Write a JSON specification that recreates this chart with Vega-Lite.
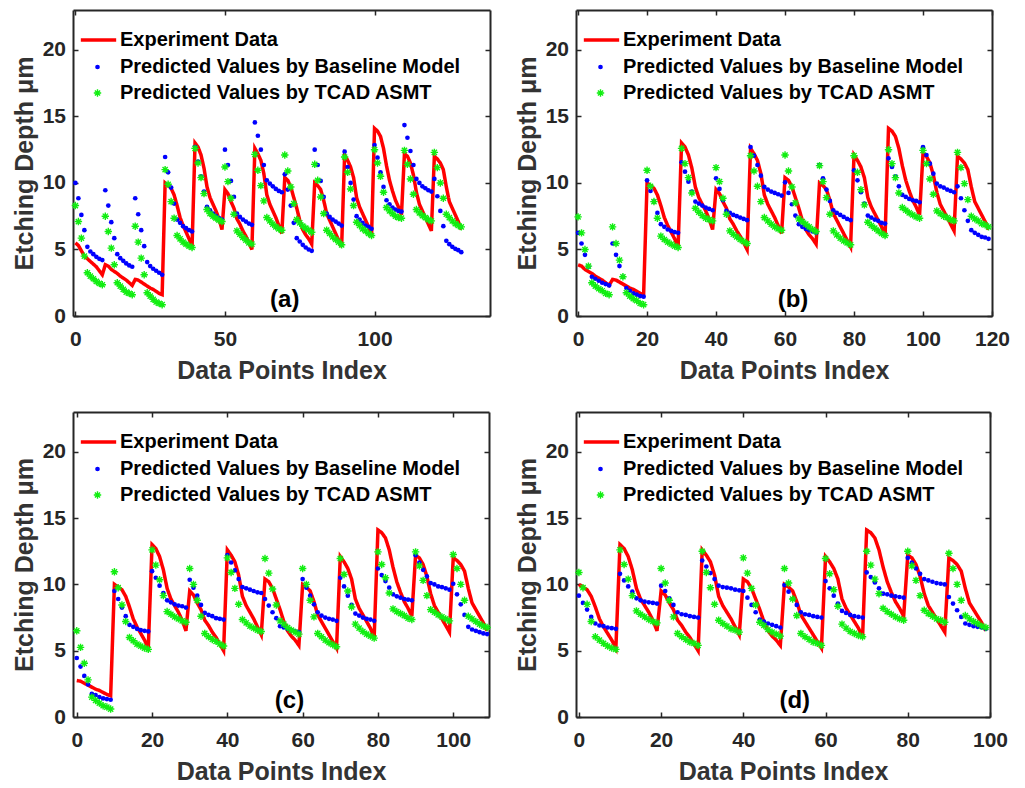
{
"$schema": "https://vega.github.io/schema/vega-lite/v6.json",
"background": "white",
"padding": {"left": 12, "top": 9, "right": 5, "bottom": 5},
"config": {
  "view": {"stroke": null},
  "axis": {"domainColor": "#262626", "domainWidth": 2, "tickColor": "#262626", "tickWidth": 1.5, "tickSize": -5, "labelFont": "Liberation Sans", "labelFontWeight": "bold", "labelFontSize": 21, "labelColor": "#262626", "titleFont": "Liberation Sans", "titleFontWeight": "bold", "titleFontSize": 25, "titleColor": "#333333", "grid": false, "labelFlush": false},
  "axisBottom": {"labelPadding": 17.5, "titlePadding": 9},
  "axisLeft": {"labelPadding": 12.5, "titlePadding": 5},
  "legend": {"orient": "none", "legendX": 6, "title": null, "padding": 0, "labelFont": "Liberation Sans", "labelFontWeight": "bold", "labelFontSize": 20, "labelColor": "#000000", "labelLimit": 600, "clipHeight": 20, "labelOffset": 3, "symbolOpacity": 1},
  "text": {"font": "Liberation Sans", "fontWeight": "bold", "fontSize": 24, "color": "#000000", "baseline": "middle", "align": "center"}
},
"bounds": "flush",
"columns": 2,
"spacing": {"row": 96, "column": 86},
"resolve": {"scale": {"fill": "independent", "stroke": "independent", "strokeDash": "independent"}, "legend": {"fill": "independent", "stroke": "independent", "strokeDash": "independent"}},
"datasets": {
"a": [
{"i":0,"E":5.5,"B":10,"T":8.3},{"i":1,"E":5.3,"B":8.85,"T":7.1},{"i":2,"E":4.9,"B":7.6,"T":5.85},{"i":3,"E":4.5,"B":6.45,"T":4.5},{"i":4,"E":4.3,"B":5.2,"T":3.25},{"i":5,"E":4.1,"B":4.85,"T":3},{"i":6,"E":3.9,"B":4.65,"T":2.8},{"i":7,"E":3.7,"B":4.45,"T":2.6},{"i":8,"E":3.4,"B":4.3,"T":2.45},{"i":9,"E":3.1,"B":4.2,"T":2.35},
{"i":10,"E":3.85,"B":9.45,"T":7.5},{"i":11,"E":3.75,"B":8.3,"T":6.35},{"i":12,"E":3.5,"B":7.05,"T":5.1},{"i":13,"E":3.35,"B":5.85,"T":3.85},{"i":14,"E":3.2,"B":4.65,"T":2.5},{"i":15,"E":3,"B":4.35,"T":2.25},{"i":16,"E":2.85,"B":4.15,"T":2},{"i":17,"E":2.7,"B":3.95,"T":1.8},{"i":18,"E":2.5,"B":3.8,"T":1.7},{"i":19,"E":2.3,"B":3.7,"T":1.6},
{"i":20,"E":2.75,"B":8.85,"T":6.75},{"i":21,"E":2.7,"B":7.65,"T":5.55},{"i":22,"E":2.55,"B":6.45,"T":4.35},{"i":23,"E":2.4,"B":5.25,"T":3.1},{"i":24,"E":2.25,"B":4.05,"T":1.75},{"i":25,"E":2.1,"B":3.75,"T":1.5},{"i":26,"E":2,"B":3.55,"T":1.25},{"i":27,"E":1.85,"B":3.4,"T":1.05},{"i":28,"E":1.7,"B":3.25,"T":0.95},{"i":29,"E":1.6,"B":3.1,"T":0.85},
{"i":30,"E":10,"B":11.95,"T":11},{"i":31,"E":9.8,"B":10.8,"T":9.9},{"i":32,"E":9.6,"B":9.65,"T":8.6},{"i":33,"E":9.1,"B":8.45,"T":7.35},{"i":34,"E":8.3,"B":7.25,"T":6.05},{"i":35,"E":7.4,"B":7,"T":5.8},{"i":36,"E":6.8,"B":6.75,"T":5.55},{"i":37,"E":6.3,"B":6.6,"T":5.4},{"i":38,"E":5.8,"B":6.45,"T":5.25},{"i":39,"E":5.2,"B":6.35,"T":5.15},
{"i":40,"E":13,"B":12.7,"T":12.6},{"i":41,"E":12.7,"B":11.6,"T":11.5},{"i":42,"E":12.1,"B":10.5,"T":10.4},{"i":43,"E":11.1,"B":9.35,"T":9.2},{"i":44,"E":9.7,"B":8.2,"T":8},{"i":45,"E":8.9,"B":7.95,"T":7.7},{"i":46,"E":8.4,"B":7.7,"T":7.5},{"i":47,"E":7.9,"B":7.5,"T":7.35},{"i":48,"E":7.3,"B":7.35,"T":7.2},{"i":49,"E":6.5,"B":7.25,"T":7.1},
{"i":50,"E":9.5,"B":12.5,"T":11.2},{"i":51,"E":9.2,"B":11.35,"T":10.1},{"i":52,"E":8.6,"B":10.15,"T":8.85},{"i":53,"E":8.1,"B":8.95,"T":7.65},{"i":54,"E":7.3,"B":7.7,"T":6.4},{"i":55,"E":6.9,"B":7.45,"T":6.15},{"i":56,"E":6.4,"B":7.25,"T":5.9},{"i":57,"E":6,"B":7.1,"T":5.7},{"i":58,"E":5.5,"B":6.95,"T":5.5},{"i":59,"E":5,"B":6.85,"T":5.4},
{"i":60,"E":12.6,"B":14.55,"T":12.15},{"i":61,"E":12.2,"B":13.55,"T":10.95},{"i":62,"E":11.7,"B":12.5,"T":9.8},{"i":63,"E":10.7,"B":11.35,"T":8.65},{"i":64,"E":9.1,"B":10.2,"T":7.4},{"i":65,"E":8.4,"B":9.95,"T":7.15},{"i":66,"E":7.9,"B":9.75,"T":6.9},{"i":67,"E":7.4,"B":9.55,"T":6.7},{"i":68,"E":6.8,"B":9.4,"T":6.55},{"i":69,"E":6.2,"B":9.3,"T":6.45},
{"i":70,"E":10.4,"B":10.65,"T":12.1},{"i":71,"E":10.2,"B":9.5,"T":10.9},{"i":72,"E":9.7,"B":8.3,"T":9.7},{"i":73,"E":8.9,"B":7,"T":8.45},{"i":74,"E":8.1,"B":5.85,"T":7.25},{"i":75,"E":7.2,"B":5.6,"T":7},{"i":76,"E":6.5,"B":5.35,"T":6.75},{"i":77,"E":6.1,"B":5.15,"T":6.6},{"i":78,"E":5.8,"B":5,"T":6.45},{"i":79,"E":5.4,"B":4.9,"T":6.3},
{"i":80,"E":10,"B":12.5,"T":11.4},{"i":81,"E":9.8,"B":11.35,"T":10.2},{"i":82,"E":9.5,"B":10.15,"T":8.95},{"i":83,"E":8.7,"B":8.95,"T":7.7},{"i":84,"E":7.7,"B":7.7,"T":6.45},{"i":85,"E":7.2,"B":7.45,"T":6.2},{"i":86,"E":6.7,"B":7.25,"T":5.95},{"i":87,"E":6.2,"B":7.1,"T":5.75},{"i":88,"E":5.7,"B":6.95,"T":5.55},{"i":89,"E":5.2,"B":6.8,"T":5.35},
{"i":90,"E":12.1,"B":12.35,"T":11.95},{"i":91,"E":11.7,"B":11.2,"T":10.8},{"i":92,"E":11.2,"B":10,"T":9.55},{"i":93,"E":10.4,"B":8.75,"T":8.3},{"i":94,"E":8.9,"B":7.5,"T":7.05},{"i":95,"E":8.2,"B":7.25,"T":6.8},{"i":96,"E":7.7,"B":7,"T":6.55},{"i":97,"E":7.2,"B":6.8,"T":6.4},{"i":98,"E":6.7,"B":6.7,"T":6.2},{"i":99,"E":6,"B":6.55,"T":6.05},
{"i":100,"E":14.1,"B":12.85,"T":12.5},{"i":101,"E":13.9,"B":11.9,"T":11.5},{"i":102,"E":13.5,"B":10.8,"T":10.5},{"i":103,"E":12.6,"B":9.7,"T":9.3},{"i":104,"E":11.3,"B":8.7,"T":8.15},{"i":105,"E":10.2,"B":8.4,"T":7.9},{"i":106,"E":9.4,"B":8.15,"T":7.7},{"i":107,"E":8.7,"B":8,"T":7.5},{"i":108,"E":8.2,"B":7.9,"T":7.4},{"i":109,"E":7.6,"B":7.85,"T":7.35},
{"i":110,"E":12.2,"B":14.35,"T":12.45},{"i":111,"E":12,"B":13.4,"T":11.4},{"i":112,"E":11.5,"B":12.4,"T":10.3},{"i":113,"E":10.6,"B":11.35,"T":9.15},{"i":114,"E":9.3,"B":10.3,"T":8},{"i":115,"E":8.4,"B":10,"T":7.75},{"i":116,"E":7.9,"B":9.75,"T":7.55},{"i":117,"E":7.4,"B":9.6,"T":7.4},{"i":118,"E":6.9,"B":9.45,"T":7.25},{"i":119,"E":6.4,"B":9.35,"T":7.15},
{"i":120,"E":12,"B":10.3,"T":12.3},{"i":121,"E":11.8,"B":9,"T":11.15},{"i":122,"E":11.5,"B":7.9,"T":10},{"i":123,"E":11,"B":6.75,"T":8.85},{"i":124,"E":9.7,"B":5.65,"T":7.65},{"i":125,"E":8.6,"B":5.4,"T":7.4},{"i":126,"E":8.1,"B":5.2,"T":7.15},{"i":127,"E":7.6,"B":5.05,"T":6.95},{"i":128,"E":7.1,"B":4.95,"T":6.8},{"i":129,"E":6.5,"B":4.8,"T":6.7}
],
"b": [
{"i":0,"E":3.85,"B":6.25,"T":7.45},{"i":1,"E":3.75,"B":5.45,"T":6.25},{"i":2,"E":3.5,"B":4.6,"T":5},{"i":3,"E":3.35,"B":3.7,"T":3.75},{"i":4,"E":3.2,"B":2.95,"T":2.5},{"i":5,"E":3,"B":2.8,"T":2.25},{"i":6,"E":2.85,"B":2.65,"T":2.05},{"i":7,"E":2.7,"B":2.5,"T":1.9},{"i":8,"E":2.5,"B":2.4,"T":1.7},{"i":9,"E":2.3,"B":2.3,"T":1.6},
{"i":10,"E":2.75,"B":5.45,"T":6.7},{"i":11,"E":2.7,"B":4.6,"T":5.45},{"i":12,"E":2.55,"B":3.75,"T":4.2},{"i":13,"E":2.4,"B":2.95,"T":2.95},{"i":14,"E":2.25,"B":2.1,"T":1.75},{"i":15,"E":2.1,"B":1.9,"T":1.5},{"i":16,"E":2,"B":1.7,"T":1.3},{"i":17,"E":1.85,"B":1.6,"T":1.15},{"i":18,"E":1.7,"B":1.5,"T":0.95},{"i":19,"E":1.6,"B":1.45,"T":0.85},
{"i":20,"E":10,"B":10.2,"T":10.95},{"i":21,"E":9.8,"B":9.4,"T":9.75},{"i":22,"E":9.6,"B":8.6,"T":8.6},{"i":23,"E":9.1,"B":7.75,"T":7.35},{"i":24,"E":8.3,"B":6.9,"T":6},{"i":25,"E":7.4,"B":6.7,"T":5.75},{"i":26,"E":6.8,"B":6.5,"T":5.55},{"i":27,"E":6.3,"B":6.4,"T":5.4},{"i":28,"E":5.8,"B":6.3,"T":5.25},{"i":29,"E":5.2,"B":6.25,"T":5.15},
{"i":30,"E":13,"B":11.55,"T":12.6},{"i":31,"E":12.7,"B":10.85,"T":11.45},{"i":32,"E":12.1,"B":10.1,"T":10.4},{"i":33,"E":11.1,"B":9.35,"T":9.25},{"i":34,"E":9.7,"B":8.6,"T":8.1},{"i":35,"E":8.9,"B":8.45,"T":7.8},{"i":36,"E":8.4,"B":8.3,"T":7.55},{"i":37,"E":7.9,"B":8.15,"T":7.35},{"i":38,"E":7.3,"B":8.05,"T":7.25},{"i":39,"E":6.5,"B":7.95,"T":7.15},
{"i":40,"E":9.5,"B":10.35,"T":11.15},{"i":41,"E":9.2,"B":9.55,"T":10.1},{"i":42,"E":8.6,"B":8.7,"T":8.85},{"i":43,"E":8.1,"B":7.9,"T":7.65},{"i":44,"E":7.3,"B":7.75,"T":6.4},{"i":45,"E":6.9,"B":7.6,"T":6.15},{"i":46,"E":6.4,"B":7.5,"T":5.95},{"i":47,"E":6,"B":7.4,"T":5.75},{"i":48,"E":5.5,"B":7.3,"T":5.6},{"i":49,"E":5,"B":7.2,"T":5.45},
{"i":50,"E":12.6,"B":12.7,"T":12.05},{"i":51,"E":12.2,"B":12.05,"T":10.9},{"i":52,"E":11.7,"B":11.35,"T":9.75},{"i":53,"E":10.7,"B":10.55,"T":8.6},{"i":54,"E":9.1,"B":9.7,"T":7.4},{"i":55,"E":8.4,"B":9.5,"T":7.15},{"i":56,"E":7.9,"B":9.35,"T":6.9},{"i":57,"E":7.4,"B":9.25,"T":6.7},{"i":58,"E":6.8,"B":9.15,"T":6.55},{"i":59,"E":6.2,"B":9.05,"T":6.45},
{"i":60,"E":10.4,"B":10.05,"T":12.1},{"i":61,"E":10.2,"B":9.25,"T":10.9},{"i":62,"E":9.7,"B":8.4,"T":9.7},{"i":63,"E":8.9,"B":7.55,"T":8.5},{"i":64,"E":8.1,"B":6.9,"T":7.3},{"i":65,"E":7.2,"B":6.7,"T":7.1},{"i":66,"E":6.5,"B":6.55,"T":6.9},{"i":67,"E":6.1,"B":6.45,"T":6.7},{"i":68,"E":5.8,"B":6.35,"T":6.5},{"i":69,"E":5.4,"B":6.25,"T":6.35},
{"i":70,"E":10,"B":11.35,"T":11.3},{"i":71,"E":9.8,"B":10.35,"T":10.1},{"i":72,"E":9.5,"B":9.5,"T":8.9},{"i":73,"E":8.7,"B":8.65,"T":7.65},{"i":74,"E":7.7,"B":7.95,"T":6.4},{"i":75,"E":7.2,"B":7.75,"T":6.1},{"i":76,"E":6.7,"B":7.6,"T":5.85},{"i":77,"E":6.2,"B":7.45,"T":5.65},{"i":78,"E":5.7,"B":7.3,"T":5.5},{"i":79,"E":5.2,"B":7.2,"T":5.35},
{"i":80,"E":12.1,"B":10.95,"T":12.05},{"i":81,"E":11.7,"B":10.2,"T":10.8},{"i":82,"E":11.2,"B":9.3,"T":9.5},{"i":83,"E":10.4,"B":8.45,"T":8.35},{"i":84,"E":8.9,"B":7.55,"T":7.05},{"i":85,"E":8.2,"B":7.4,"T":6.8},{"i":86,"E":7.7,"B":7.25,"T":6.6},{"i":87,"E":7.2,"B":7.15,"T":6.4},{"i":88,"E":6.7,"B":7,"T":6.2},{"i":89,"E":6,"B":6.95,"T":6.05},
{"i":90,"E":14.1,"B":11.85,"T":12.5},{"i":91,"E":13.9,"B":11.2,"T":11.45},{"i":92,"E":13.5,"B":10.5,"T":10.4},{"i":93,"E":12.6,"B":9.75,"T":9.25},{"i":94,"E":11.3,"B":9.1,"T":8.15},{"i":95,"E":10.2,"B":8.95,"T":7.95},{"i":96,"E":9.4,"B":8.8,"T":7.75},{"i":97,"E":8.7,"B":8.7,"T":7.6},{"i":98,"E":8.2,"B":8.65,"T":7.45},{"i":99,"E":7.6,"B":8.55,"T":7.35},
{"i":100,"E":12.2,"B":12.7,"T":12.45},{"i":101,"E":12,"B":12.1,"T":11.45},{"i":102,"E":11.5,"B":11.45,"T":10.3},{"i":103,"E":10.6,"B":10.7,"T":9.15},{"i":104,"E":9.3,"B":9.95,"T":7.9},{"i":105,"E":8.4,"B":9.75,"T":7.7},{"i":106,"E":7.9,"B":9.65,"T":7.5},{"i":107,"E":7.4,"B":9.5,"T":7.4},{"i":108,"E":6.9,"B":9.4,"T":7.25},{"i":109,"E":6.4,"B":9.3,"T":7.15},
{"i":110,"E":12,"B":9.75,"T":12.3},{"i":111,"E":11.8,"B":8.85,"T":11.15},{"i":112,"E":11.5,"B":7.95,"T":9.95},{"i":113,"E":11,"B":7.15,"T":8.75},{"i":114,"E":9.7,"B":6.45,"T":7.5},{"i":115,"E":8.6,"B":6.25,"T":7.3},{"i":116,"E":8.1,"B":6.1,"T":7.15},{"i":117,"E":7.6,"B":5.95,"T":6.95},{"i":118,"E":7.1,"B":5.9,"T":6.85},{"i":119,"E":6.5,"B":5.8,"T":6.7}
],
"c": [
{"i":0,"E":2.75,"B":4.45,"T":6.5},{"i":1,"E":2.7,"B":3.8,"T":5.25},{"i":2,"E":2.55,"B":3.1,"T":4.05},{"i":3,"E":2.4,"B":2.45,"T":2.8},{"i":4,"E":2.25,"B":1.75,"T":1.5},{"i":5,"E":2.1,"B":1.65,"T":1.25},{"i":6,"E":2,"B":1.5,"T":1.05},{"i":7,"E":1.85,"B":1.4,"T":0.85},{"i":8,"E":1.7,"B":1.35,"T":0.75},{"i":9,"E":1.6,"B":1.3,"T":0.6},
{"i":10,"E":10,"B":9.5,"T":10.95},{"i":11,"E":9.8,"B":8.9,"T":9.75},{"i":12,"E":9.6,"B":8.25,"T":8.45},{"i":13,"E":9.1,"B":7.6,"T":7.2},{"i":14,"E":8.3,"B":6.95,"T":6},{"i":15,"E":7.4,"B":6.8,"T":5.75},{"i":16,"E":6.8,"B":6.65,"T":5.5},{"i":17,"E":6.3,"B":6.55,"T":5.35},{"i":18,"E":5.8,"B":6.5,"T":5.2},{"i":19,"E":5.2,"B":6.45,"T":5.1},
{"i":20,"E":13,"B":11,"T":12.6},{"i":21,"E":12.7,"B":10.5,"T":11.45},{"i":22,"E":12.1,"B":9.9,"T":10.35},{"i":23,"E":11.1,"B":9.35,"T":9.15},{"i":24,"E":9.7,"B":8.8,"T":7.95},{"i":25,"E":8.9,"B":8.65,"T":7.75},{"i":26,"E":8.4,"B":8.5,"T":7.55},{"i":27,"E":7.9,"B":8.4,"T":7.4},{"i":28,"E":7.3,"B":8.35,"T":7.25},{"i":29,"E":6.5,"B":8.25,"T":7.15},
{"i":30,"E":9.5,"B":10.35,"T":11.2},{"i":31,"E":9.2,"B":9.75,"T":10},{"i":32,"E":8.6,"B":9.15,"T":8.8},{"i":33,"E":8.1,"B":8.45,"T":7.6},{"i":34,"E":7.3,"B":7.85,"T":6.3},{"i":35,"E":6.9,"B":7.7,"T":6.05},{"i":36,"E":6.4,"B":7.6,"T":5.85},{"i":37,"E":6,"B":7.45,"T":5.7},{"i":38,"E":5.5,"B":7.4,"T":5.5},{"i":39,"E":5,"B":7.35,"T":5.35},
{"i":40,"E":12.6,"B":12.2,"T":12},{"i":41,"E":12.2,"B":11.65,"T":10.9},{"i":42,"E":11.7,"B":11.05,"T":9.7},{"i":43,"E":10.7,"B":10.4,"T":8.5},{"i":44,"E":9.1,"B":9.8,"T":7.35},{"i":45,"E":8.4,"B":9.7,"T":7.1},{"i":46,"E":7.9,"B":9.6,"T":6.85},{"i":47,"E":7.4,"B":9.5,"T":6.7},{"i":48,"E":6.8,"B":9.4,"T":6.55},{"i":49,"E":6.2,"B":9.35,"T":6.45},
{"i":50,"E":10.4,"B":8.9,"T":11.95},{"i":51,"E":10.2,"B":8.4,"T":10.85},{"i":52,"E":9.7,"B":7.9,"T":9.65},{"i":53,"E":8.9,"B":7.45,"T":8.45},{"i":54,"E":8.1,"B":6.85,"T":7.25},{"i":55,"E":7.2,"B":6.75,"T":7},{"i":56,"E":6.5,"B":6.65,"T":6.75},{"i":57,"E":6.1,"B":6.55,"T":6.55},{"i":58,"E":5.8,"B":6.45,"T":6.4},{"i":59,"E":5.4,"B":6.4,"T":6.25},
{"i":60,"E":10,"B":10.4,"T":11.2},{"i":61,"E":9.8,"B":9.75,"T":10},{"i":62,"E":9.5,"B":9.15,"T":8.8},{"i":63,"E":8.7,"B":8.5,"T":7.55},{"i":64,"E":7.7,"B":7.9,"T":6.3},{"i":65,"E":7.2,"B":7.65,"T":6.05},{"i":66,"E":6.7,"B":7.5,"T":5.8},{"i":67,"E":6.2,"B":7.4,"T":5.6},{"i":68,"E":5.7,"B":7.35,"T":5.45},{"i":69,"E":5.2,"B":7.25,"T":5.3},
{"i":70,"E":12.1,"B":10.5,"T":11.95},{"i":71,"E":11.7,"B":9.85,"T":10.75},{"i":72,"E":11.2,"B":9.15,"T":9.5},{"i":73,"E":10.4,"B":8.45,"T":8.3},{"i":74,"E":8.9,"B":7.8,"T":7},{"i":75,"E":8.2,"B":7.65,"T":6.7},{"i":76,"E":7.7,"B":7.5,"T":6.45},{"i":77,"E":7.2,"B":7.4,"T":6.25},{"i":78,"E":6.7,"B":7.35,"T":6.1},{"i":79,"E":6,"B":7.25,"T":5.95},
{"i":80,"E":14.1,"B":11.2,"T":12.45},{"i":81,"E":13.9,"B":10.7,"T":11.5},{"i":82,"E":13.5,"B":10.25,"T":10.5},{"i":83,"E":12.6,"B":9.75,"T":9.35},{"i":84,"E":11.3,"B":9.25,"T":8.15},{"i":85,"E":10.2,"B":9.1,"T":7.95},{"i":86,"E":9.4,"B":9,"T":7.8},{"i":87,"E":8.7,"B":8.9,"T":7.65},{"i":88,"E":8.2,"B":8.85,"T":7.45},{"i":89,"E":7.6,"B":8.8,"T":7.35},
{"i":90,"E":12.2,"B":12.2,"T":12.45},{"i":91,"E":12,"B":11.65,"T":11.4},{"i":92,"E":11.5,"B":11.1,"T":10.3},{"i":93,"E":10.6,"B":10.6,"T":9.15},{"i":94,"E":9.3,"B":10.1,"T":8.1},{"i":95,"E":8.4,"B":10,"T":7.9},{"i":96,"E":7.9,"B":9.85,"T":7.7},{"i":97,"E":7.4,"B":9.8,"T":7.55},{"i":98,"E":6.9,"B":9.7,"T":7.4},{"i":99,"E":6.4,"B":9.6,"T":7.25},
{"i":100,"E":12,"B":10.05,"T":12.25},{"i":101,"E":11.8,"B":9.25,"T":11.2},{"i":102,"E":11.5,"B":8.5,"T":10},{"i":103,"E":11,"B":7.7,"T":8.8},{"i":104,"E":9.7,"B":6.8,"T":7.6},{"i":105,"E":8.6,"B":6.6,"T":7.4},{"i":106,"E":8.1,"B":6.5,"T":7.2},{"i":107,"E":7.6,"B":6.4,"T":7},{"i":108,"E":7.1,"B":6.3,"T":6.85},{"i":109,"E":6.5,"B":6.25,"T":6.75}
],
"d": [
{"i":0,"E":10,"B":9.15,"T":10.9},{"i":1,"E":9.8,"B":8.6,"T":9.75},{"i":2,"E":9.6,"B":8.1,"T":8.5},{"i":3,"E":9.1,"B":7.55,"T":7.2},{"i":4,"E":8.3,"B":7.05,"T":6.05},{"i":5,"E":7.4,"B":6.9,"T":5.8},{"i":6,"E":6.8,"B":6.85,"T":5.55},{"i":7,"E":6.3,"B":6.75,"T":5.35},{"i":8,"E":5.8,"B":6.7,"T":5.2},{"i":9,"E":5.2,"B":6.65,"T":5.1},
{"i":10,"E":13,"B":10.8,"T":12.6},{"i":11,"E":12.7,"B":10.3,"T":11.5},{"i":12,"E":12.1,"B":9.85,"T":10.4},{"i":13,"E":11.1,"B":9.45,"T":9.15},{"i":14,"E":9.7,"B":8.95,"T":8},{"i":15,"E":8.9,"B":8.8,"T":7.75},{"i":16,"E":8.4,"B":8.7,"T":7.55},{"i":17,"E":7.9,"B":8.65,"T":7.35},{"i":18,"E":7.3,"B":8.6,"T":7.2},{"i":19,"E":6.5,"B":8.55,"T":7.1},
{"i":20,"E":9.5,"B":9.9,"T":11.2},{"i":21,"E":9.2,"B":9.5,"T":10.1},{"i":22,"E":8.6,"B":8.95,"T":8.8},{"i":23,"E":8.1,"B":8.45,"T":7.55},{"i":24,"E":7.3,"B":7.9,"T":6.3},{"i":25,"E":6.9,"B":7.75,"T":6.05},{"i":26,"E":6.4,"B":7.7,"T":5.85},{"i":27,"E":6,"B":7.6,"T":5.65},{"i":28,"E":5.5,"B":7.55,"T":5.55},{"i":29,"E":5,"B":7.5,"T":5.4},
{"i":30,"E":12.6,"B":11.8,"T":12.5},{"i":31,"E":12.2,"B":11.35,"T":10.9},{"i":32,"E":11.7,"B":10.85,"T":9.75},{"i":33,"E":10.7,"B":10.4,"T":8.5},{"i":34,"E":9.1,"B":9.9,"T":7.3},{"i":35,"E":8.4,"B":9.8,"T":7.05},{"i":36,"E":7.9,"B":9.75,"T":6.85},{"i":37,"E":7.4,"B":9.7,"T":6.65},{"i":38,"E":6.8,"B":9.6,"T":6.55},{"i":39,"E":6.2,"B":9.55,"T":6.4},
{"i":40,"E":10.4,"B":9.5,"T":12},{"i":41,"E":10.2,"B":9,"T":10.85},{"i":42,"E":9.7,"B":8.45,"T":9.7},{"i":43,"E":8.9,"B":7.9,"T":8.45},{"i":44,"E":8.1,"B":7.35,"T":7.15},{"i":45,"E":7.2,"B":7.2,"T":6.9},{"i":46,"E":6.5,"B":7.05,"T":6.6},{"i":47,"E":6.1,"B":6.95,"T":6.4},{"i":48,"E":5.8,"B":6.85,"T":6.25},{"i":49,"E":5.4,"B":6.75,"T":6.1},
{"i":50,"E":10,"B":9.95,"T":11.2},{"i":51,"E":9.8,"B":9.45,"T":10.1},{"i":52,"E":9.5,"B":8.9,"T":8.9},{"i":53,"E":8.7,"B":8.45,"T":7.65},{"i":54,"E":7.7,"B":7.9,"T":6.3},{"i":55,"E":7.2,"B":7.75,"T":6.05},{"i":56,"E":6.7,"B":7.7,"T":5.85},{"i":57,"E":6.2,"B":7.6,"T":5.65},{"i":58,"E":5.7,"B":7.55,"T":5.55},{"i":59,"E":5.2,"B":7.5,"T":5.4},
{"i":60,"E":12.1,"B":10.25,"T":11.95},{"i":61,"E":11.7,"B":9.7,"T":10.8},{"i":62,"E":11.2,"B":9.15,"T":9.6},{"i":63,"E":10.4,"B":8.55,"T":8.35},{"i":64,"E":8.9,"B":8,"T":7},{"i":65,"E":8.2,"B":7.85,"T":6.7},{"i":66,"E":7.7,"B":7.7,"T":6.45},{"i":67,"E":7.2,"B":7.6,"T":6.3},{"i":68,"E":6.7,"B":7.55,"T":6.15},{"i":69,"E":6,"B":7.5,"T":6.05},
{"i":70,"E":14.1,"B":10.9,"T":12.5},{"i":71,"E":13.9,"B":10.55,"T":11.45},{"i":72,"E":13.5,"B":10.15,"T":10.4},{"i":73,"E":12.6,"B":9.7,"T":9.3},{"i":74,"E":11.3,"B":9.3,"T":8.2},{"i":75,"E":10.2,"B":9.25,"T":7.95},{"i":76,"E":9.4,"B":9.15,"T":7.75},{"i":77,"E":8.7,"B":9.1,"T":7.55},{"i":78,"E":8.2,"B":9.05,"T":7.4},{"i":79,"E":7.6,"B":9,"T":7.3},
{"i":80,"E":12.2,"B":12,"T":12.5},{"i":81,"E":12,"B":11.65,"T":11.4},{"i":82,"E":11.5,"B":11.2,"T":10.3},{"i":83,"E":10.6,"B":10.8,"T":9.15},{"i":84,"E":9.3,"B":10.4,"T":8.05},{"i":85,"E":8.4,"B":10.3,"T":7.8},{"i":86,"E":7.9,"B":10.2,"T":7.6},{"i":87,"E":7.4,"B":10.1,"T":7.4},{"i":88,"E":6.9,"B":10.05,"T":7.3},{"i":89,"E":6.4,"B":10,"T":7.15},
{"i":90,"E":12,"B":9.05,"T":12.35},{"i":91,"E":11.8,"B":8.55,"T":11.2},{"i":92,"E":11.5,"B":8.05,"T":10},{"i":93,"E":11,"B":7.55,"T":8.8},{"i":94,"E":9.7,"B":7.05,"T":7.65},{"i":95,"E":8.6,"B":6.95,"T":7.4},{"i":96,"E":8.1,"B":6.85,"T":7.2},{"i":97,"E":7.6,"B":6.8,"T":7.05},{"i":98,"E":7.1,"B":6.75,"T":6.85},{"i":99,"E":6.5,"B":6.65,"T":6.75}
]
},
"concat": [
{
 "width": 417, "height": 306,
 "data": {"name": "a"},
 "layer": [
  {"mark": {"type": "line", "color": "#ff0000", "strokeWidth": 3.5},
   "encoding": {
    "x": {"field": "i", "type": "quantitative", "scale": {"domain": [-0.8, 138.6], "nice": false, "zero": false}, "axis": {"orient": "bottom", "values": [0, 50, 100], "title": "Data Points Index"}},
    "y": {"field": "E", "type": "quantitative", "scale": {"domain": [0, 23], "nice": false}, "axis": {"orient": "left", "values": [0, 5, 10, 15, 20], "title": "Etching Depth μm"}},
    "strokeDash": {"datum": "Experiment Data", "type": "nominal", "scale": {"range": [[1, 0]]}, "legend": {"legendY": 20, "labelOffset": 2, "symbolType": "stroke", "symbolSize": 1250, "symbolStrokeColor": "#ff0000", "symbolStrokeWidth": 3.5}}}},
  {"mark": {"type": "point", "filled": true, "shape": "circle", "size": 22, "opacity": 1, "strokeWidth": 0},
   "encoding": {
    "x": {"field": "i", "type": "quantitative", "axis": {"orient": "top", "values": [0, 50, 100], "labels": false, "title": null}},
    "y": {"field": "B", "type": "quantitative", "axis": {"orient": "right", "values": [0, 5, 10, 15, 20], "labels": false, "title": null}},
    "fill": {"datum": "Predicted Values by Baseline Model", "type": "nominal", "scale": {"range": ["#0000ff"]}, "legend": {"legendY": 47, "symbolOffset": 8.5, "labelOffset": 12.5, "symbolType": "circle", "symbolSize": 22, "symbolStrokeWidth": 0, "symbolFillColor": "#0000ff"}}}},
  {"mark": {"type": "point", "filled": false, "shape": "M-1,0L1,0M0,-1L0,1M-0.7,-0.7L0.7,0.7M-0.7,0.7L0.7,-0.7", "size": 55, "strokeWidth": 1.4, "opacity": 1},
   "encoding": {
    "x": {"field": "i", "type": "quantitative", "axis": null},
    "y": {"field": "T", "type": "quantitative", "axis": null},
    "stroke": {"datum": "Predicted Values by TCAD ASMT", "type": "nominal", "scale": {"range": ["#11ee11"]}, "legend": {"legendY": 73, "symbolOffset": 8.5, "labelOffset": 12.5, "symbolType": "M-1,0L1,0M0,-1L0,1M-0.7,-0.7L0.7,0.7M-0.7,0.7L0.7,-0.7", "symbolSize": 55, "symbolStrokeWidth": 1.4, "symbolStrokeColor": "#11ee11"}}}},
  {"data": {"values": [{"lab": "(a)", "x": 70, "y": 1.2}]},
   "mark": {"type": "text"},
   "encoding": {"x": {"field": "x", "type": "quantitative", "axis": null}, "y": {"field": "y", "type": "quantitative", "axis": null}, "text": {"field": "lab"}}}
 ],
 "resolve": {"axis": {"x": "independent", "y": "independent"}}
},
{
 "width": 416, "height": 306,
 "data": {"name": "b"},
 "layer": [
  {"mark": {"type": "line", "color": "#ff0000", "strokeWidth": 3.5},
   "encoding": {
    "x": {"field": "i", "type": "quantitative", "scale": {"domain": [-0.6, 120], "nice": false, "zero": false}, "axis": {"orient": "bottom", "values": [0, 20, 40, 60, 80, 100, 120], "title": "Data Points Index"}},
    "y": {"field": "E", "type": "quantitative", "scale": {"domain": [0, 23], "nice": false}, "axis": {"orient": "left", "values": [0, 5, 10, 15, 20], "title": "Etching Depth μm"}},
    "strokeDash": {"datum": "Experiment Data", "type": "nominal", "scale": {"range": [[1, 0]]}, "legend": {"legendY": 20, "labelOffset": 2, "symbolType": "stroke", "symbolSize": 1250, "symbolStrokeColor": "#ff0000", "symbolStrokeWidth": 3.5}}}},
  {"mark": {"type": "point", "filled": true, "shape": "circle", "size": 22, "opacity": 1, "strokeWidth": 0},
   "encoding": {
    "x": {"field": "i", "type": "quantitative", "axis": {"orient": "top", "values": [0, 20, 40, 60, 80, 100, 120], "labels": false, "title": null}},
    "y": {"field": "B", "type": "quantitative", "axis": {"orient": "right", "values": [0, 5, 10, 15, 20], "labels": false, "title": null}},
    "fill": {"datum": "Predicted Values by Baseline Model", "type": "nominal", "scale": {"range": ["#0000ff"]}, "legend": {"legendY": 47, "symbolOffset": 8.5, "labelOffset": 12.5, "symbolType": "circle", "symbolSize": 22, "symbolStrokeWidth": 0, "symbolFillColor": "#0000ff"}}}},
  {"mark": {"type": "point", "filled": false, "shape": "M-1,0L1,0M0,-1L0,1M-0.7,-0.7L0.7,0.7M-0.7,0.7L0.7,-0.7", "size": 55, "strokeWidth": 1.4, "opacity": 1},
   "encoding": {
    "x": {"field": "i", "type": "quantitative", "axis": null},
    "y": {"field": "T", "type": "quantitative", "axis": null},
    "stroke": {"datum": "Predicted Values by TCAD ASMT", "type": "nominal", "scale": {"range": ["#11ee11"]}, "legend": {"legendY": 73, "symbolOffset": 8.5, "labelOffset": 12.5, "symbolType": "M-1,0L1,0M0,-1L0,1M-0.7,-0.7L0.7,0.7M-0.7,0.7L0.7,-0.7", "symbolSize": 55, "symbolStrokeWidth": 1.4, "symbolStrokeColor": "#11ee11"}}}},
  {"data": {"values": [{"lab": "(b)", "x": 62.3, "y": 1.2}]},
   "mark": {"type": "text"},
   "encoding": {"x": {"field": "x", "type": "quantitative", "axis": null}, "y": {"field": "y", "type": "quantitative", "axis": null}, "text": {"field": "lab"}}}
 ],
 "resolve": {"axis": {"x": "independent", "y": "independent"}}
},
{
 "width": 416, "height": 305,
 "data": {"name": "c"},
 "layer": [
  {"mark": {"type": "line", "color": "#ff0000", "strokeWidth": 3.5},
   "encoding": {
    "x": {"field": "i", "type": "quantitative", "scale": {"domain": [-1, 109.5], "nice": false, "zero": false}, "axis": {"orient": "bottom", "values": [0, 20, 40, 60, 80, 100], "title": "Data Points Index"}},
    "y": {"field": "E", "type": "quantitative", "scale": {"domain": [0, 23], "nice": false}, "axis": {"orient": "left", "values": [0, 5, 10, 15, 20], "title": "Etching Depth μm"}},
    "strokeDash": {"datum": "Experiment Data", "type": "nominal", "scale": {"range": [[1, 0]]}, "legend": {"legendY": 20, "labelOffset": 2, "symbolType": "stroke", "symbolSize": 1250, "symbolStrokeColor": "#ff0000", "symbolStrokeWidth": 3.5}}}},
  {"mark": {"type": "point", "filled": true, "shape": "circle", "size": 22, "opacity": 1, "strokeWidth": 0},
   "encoding": {
    "x": {"field": "i", "type": "quantitative", "axis": {"orient": "top", "values": [0, 20, 40, 60, 80, 100], "labels": false, "title": null}},
    "y": {"field": "B", "type": "quantitative", "axis": {"orient": "right", "values": [0, 5, 10, 15, 20], "labels": false, "title": null}},
    "fill": {"datum": "Predicted Values by Baseline Model", "type": "nominal", "scale": {"range": ["#0000ff"]}, "legend": {"legendY": 47, "symbolOffset": 8.5, "labelOffset": 12.5, "symbolType": "circle", "symbolSize": 22, "symbolStrokeWidth": 0, "symbolFillColor": "#0000ff"}}}},
  {"mark": {"type": "point", "filled": false, "shape": "M-1,0L1,0M0,-1L0,1M-0.7,-0.7L0.7,0.7M-0.7,0.7L0.7,-0.7", "size": 55, "strokeWidth": 1.4, "opacity": 1},
   "encoding": {
    "x": {"field": "i", "type": "quantitative", "axis": null},
    "y": {"field": "T", "type": "quantitative", "axis": null},
    "stroke": {"datum": "Predicted Values by TCAD ASMT", "type": "nominal", "scale": {"range": ["#11ee11"]}, "legend": {"legendY": 73, "symbolOffset": 8.5, "labelOffset": 12.5, "symbolType": "M-1,0L1,0M0,-1L0,1M-0.7,-0.7L0.7,0.7M-0.7,0.7L0.7,-0.7", "symbolSize": 55, "symbolStrokeWidth": 1.4, "symbolStrokeColor": "#11ee11"}}}},
  {"data": {"values": [{"lab": "(c)", "x": 56.5, "y": 1.2}]},
   "mark": {"type": "text"},
   "encoding": {"x": {"field": "x", "type": "quantitative", "axis": null}, "y": {"field": "y", "type": "quantitative", "axis": null}, "text": {"field": "lab"}}}
 ],
 "resolve": {"axis": {"x": "independent", "y": "independent"}}
},
{
 "width": 414, "height": 305,
 "data": {"name": "d"},
 "layer": [
  {"mark": {"type": "line", "color": "#ff0000", "strokeWidth": 3.5},
   "encoding": {
    "x": {"field": "i", "type": "quantitative", "scale": {"domain": [-0.7, 100], "nice": false, "zero": false}, "axis": {"orient": "bottom", "values": [0, 20, 40, 60, 80, 100], "title": "Data Points Index"}},
    "y": {"field": "E", "type": "quantitative", "scale": {"domain": [0, 23], "nice": false}, "axis": {"orient": "left", "values": [0, 5, 10, 15, 20], "title": "Etching Depth μm"}},
    "strokeDash": {"datum": "Experiment Data", "type": "nominal", "scale": {"range": [[1, 0]]}, "legend": {"legendY": 20, "labelOffset": 2, "symbolType": "stroke", "symbolSize": 1250, "symbolStrokeColor": "#ff0000", "symbolStrokeWidth": 3.5}}}},
  {"mark": {"type": "point", "filled": true, "shape": "circle", "size": 22, "opacity": 1, "strokeWidth": 0},
   "encoding": {
    "x": {"field": "i", "type": "quantitative", "axis": {"orient": "top", "values": [0, 20, 40, 60, 80, 100], "labels": false, "title": null}},
    "y": {"field": "B", "type": "quantitative", "axis": {"orient": "right", "values": [0, 5, 10, 15, 20], "labels": false, "title": null}},
    "fill": {"datum": "Predicted Values by Baseline Model", "type": "nominal", "scale": {"range": ["#0000ff"]}, "legend": {"legendY": 47, "symbolOffset": 8.5, "labelOffset": 12.5, "symbolType": "circle", "symbolSize": 22, "symbolStrokeWidth": 0, "symbolFillColor": "#0000ff"}}}},
  {"mark": {"type": "point", "filled": false, "shape": "M-1,0L1,0M0,-1L0,1M-0.7,-0.7L0.7,0.7M-0.7,0.7L0.7,-0.7", "size": 55, "strokeWidth": 1.4, "opacity": 1},
   "encoding": {
    "x": {"field": "i", "type": "quantitative", "axis": null},
    "y": {"field": "T", "type": "quantitative", "axis": null},
    "stroke": {"datum": "Predicted Values by TCAD ASMT", "type": "nominal", "scale": {"range": ["#11ee11"]}, "legend": {"legendY": 73, "symbolOffset": 8.5, "labelOffset": 12.5, "symbolType": "M-1,0L1,0M0,-1L0,1M-0.7,-0.7L0.7,0.7M-0.7,0.7L0.7,-0.7", "symbolSize": 55, "symbolStrokeWidth": 1.4, "symbolStrokeColor": "#11ee11"}}}},
  {"data": {"values": [{"lab": "(d)", "x": 52.5, "y": 1.2}]},
   "mark": {"type": "text"},
   "encoding": {"x": {"field": "x", "type": "quantitative", "axis": null}, "y": {"field": "y", "type": "quantitative", "axis": null}, "text": {"field": "lab"}}}
 ],
 "resolve": {"axis": {"x": "independent", "y": "independent"}}
}
]
}
